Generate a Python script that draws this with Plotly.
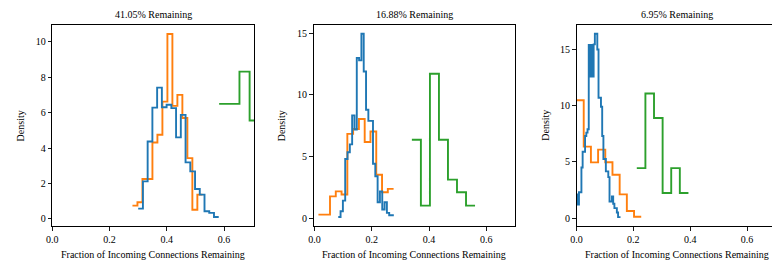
import numpy as np
import plotly.graph_objects as go

# ---------------- data ----------------
titles = ["41.05% Remaining", "16.88% Remaining", "6.95% Remaining"]
x_label = "Fraction of Incoming Connections Remaining"
y_label = "Density"
x_ticks = [0.0, 0.2, 0.4, 0.6]
y_ticks = [[0, 2, 4, 6, 8, 10], [0, 5, 10, 15], [0, 5, 10, 15]]

# panel 1 (41.05%)
p1_blue_start, p1_blue_width = 0.300, 0.01656
p1_blue = [0.58, 2.12, 4.37, 6.28, 7.41, 6.30, 6.44, 6.25, 4.60, 5.87,
           3.19, 2.68, 1.69, 1.37, 0.43, 0.34, 0.11]
p1_orange_start, p1_orange_width = 0.280, 0.01745
p1_orange = [0.75, 0.94, 2.25, 2.25, 4.31, 4.75, 6.62, 10.43, 6.38, 7.00,
             5.69, 3.43, 0.52, 1.37]
p1_green_start, p1_green_width = 0.583, 0.0355
p1_green = [6.49, 6.49, 8.31, 5.55]

# panel 2 (16.88%)
p2_blue_start, p2_blue_width = 0.0831, 0.00808
p2_blue = [0.13, 0.59, 1.45, 4.82, 5.36, 6.00, 8.35, 7.20, 13.0, 12.8,
           14.95, 11.9, 8.8, 7.9, 7.9, 4.44, 3.42, 1.32, 2.20, 0.73,
           1.32, 0.46, 0.27, 0.27]
p2_orange_start, p2_orange_width = 0.0139, 0.02018
p2_orange = [0.32, 0.32, 1.80, 2.20, 1.95, 6.85, 7.25, 8.05, 6.20, 7.05,
             3.55, 2.13, 2.40]
p2_green_start, p2_green_width = 0.340, 0.0315
p2_green = [6.38, 1.05, 11.72, 6.38, 3.15, 2.13, 1.05]

# panel 3 (6.95%)
p3_blue_start, p3_blue_width = 0.0, 0.0043
p3_blue = [2.1, 1.2, 2.3, 2.3, 4.5, 5.9, 5.9, 7.3, 7.6, 7.9,
           15.4, 12.6, 15.4, 12.6, 15.45, 16.4, 16.4, 15.0, 10.7, 10.7,
           9.9, 7.3, 5.26, 5.26, 4.16, 4.16, 3.65, 1.48, 1.48, 1.93,
           1.28, 0.89, 0.89, 0.5, 0.09, 0.09]
p3_orange_start, p3_orange_width = 0.0, 0.0253
p3_orange = [10.48, 6.36, 4.96, 6.09, 4.97, 3.86, 2.11, 0.64, 0.12]
p3_green_start, p3_green_width = 0.2121, 0.0303
p3_green = [4.45, 11.08, 8.90, 2.23, 4.45, 2.23]

y_ranges = [[-0.40, 10.97], [-0.60, 15.70], [-0.70, 17.22]]

# ---------------- figure ----------------
W, H = 772, 261
colors = {"blue": "#1f77b4", "orange": "#ff7f0e", "green": "#2ca02c"}
FONT = "Liberation Serif"
FS = 10

panels = [
    {"blue": (p1_blue_start, p1_blue_width, p1_blue),
     "orange": (p1_orange_start, p1_orange_width, p1_orange),
     "green": (p1_green_start, p1_green_width, p1_green)},
    {"blue": (p2_blue_start, p2_blue_width, p2_blue),
     "orange": (p2_orange_start, p2_orange_width, p2_orange),
     "green": (p2_green_start, p2_green_width, p2_green)},
    {"blue": (p3_blue_start, p3_blue_width, p3_blue),
     "orange": (p3_orange_start, p3_orange_width, p3_orange),
     "green": (p3_green_start, p3_green_width, p3_green)},
]

# pixel geometry of the axes boxes (left, right) ; third panel runs off the page
px_boxes = [(46.7, 250.0), (310.0, 513.0), (575.0, 778.0)]
top_px, bot_px = 24.5, 226.0
x_ranges = [[0, 0.705], [-0.003, 0.700], [0, 0.688]]

fig = go.Figure()
annotations = []
for i, pan in enumerate(panels):
    n = "" if i == 0 else str(i + 1)
    xa, ya = "x" + n, "y" + n
    for key in ["green", "orange", "blue"]:
        start, width, vals = pan[key]
        edges = start + width * np.arange(len(vals) + 1)
        yv = list(vals) + [vals[-1]]
        fig.add_trace(go.Scatter(
            x=edges, y=yv, mode="lines", line_shape="hv",
            line=dict(color=colors[key], width=1.9),
            xaxis=xa, yaxis=ya, showlegend=False, hoverinfo="skip"))
    l, r = px_boxes[i]
    dom_r = min(r, W) / W
    common = dict(showline=True, linecolor="black", linewidth=1,
                  ticks="outside", ticklen=3.5, tickwidth=0.9, tickcolor="black",
                  showgrid=False, zeroline=False,
                  tickfont=dict(family=FONT, size=FS, color="black"))
    fig.update_layout(**{
        ("xaxis" + n): dict(domain=[l / W, dom_r], range=x_ranges[i],
                            tickvals=x_ticks, ticktext=[f"{t:.1f}" for t in x_ticks],
                            anchor=ya, mirror=True, **common),
        ("yaxis" + n): dict(domain=[1 - bot_px / H, 1 - top_px / H], range=y_ranges[i],
                            tickvals=y_ticks[i], anchor=xa,
                            mirror=(r <= W), **common),
    })
    cx = (l + r) / 2 / W
    annotations.append(dict(text=titles[i], x=cx, y=1 - 14 / H, xref="paper", yref="paper",
                            showarrow=False, xanchor="center", yanchor="middle",
                            font=dict(family=FONT, size=FS, color="black")))
    annotations.append(dict(text=x_label, x=cx, y=1 - 254.5 / H, xref="paper", yref="paper",
                            showarrow=False, xanchor="center", yanchor="middle",
                            font=dict(family=FONT, size=FS, color="black")))
    ylab_x = [15.0, 278.0, 543.5][i]
    annotations.append(dict(text=y_label, x=ylab_x / W, y=1 - 125.5 / H, xref="paper", yref="paper",
                            showarrow=False, xanchor="center", yanchor="middle", textangle=-90,
                            font=dict(family=FONT, size=FS, color="black")))

fig.update_layout(width=W, height=H, margin=dict(l=0, r=0, t=0, b=0),
                  paper_bgcolor="white", plot_bgcolor="white",
                  font=dict(family=FONT),
                  annotations=annotations)
fig.write_html("out.html", config={"displayModeBar": False, "staticPlot": True},
               post_script="document.body.style.margin='0';document.body.style.overflow='hidden';")
